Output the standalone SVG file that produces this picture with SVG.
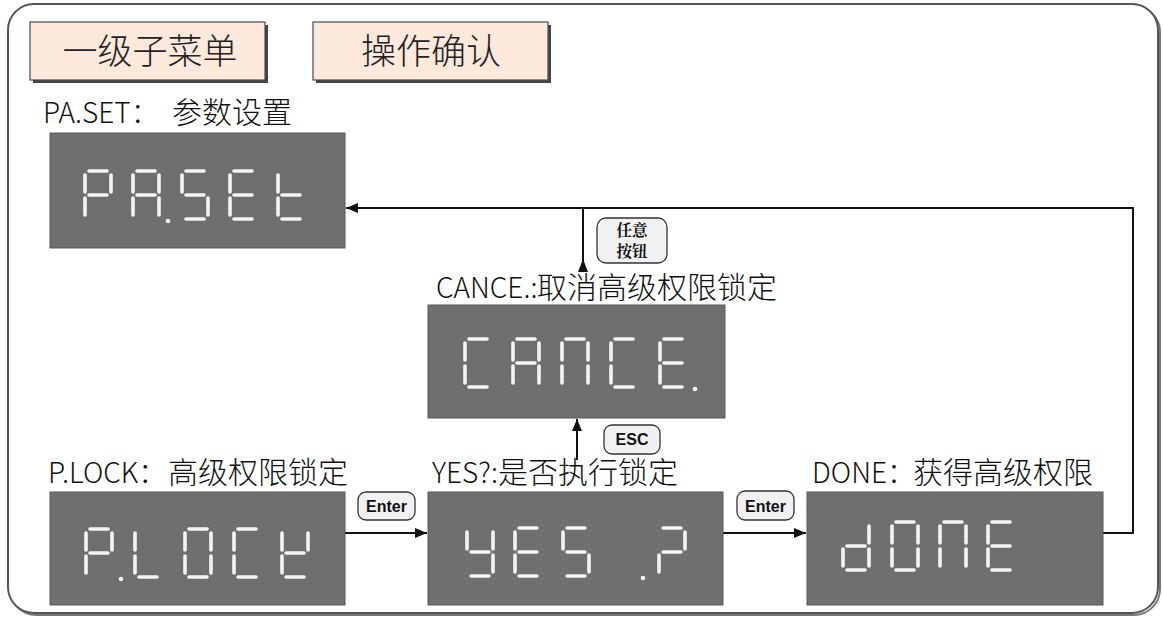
<svg xmlns="http://www.w3.org/2000/svg" xmlns:xlink="http://www.w3.org/1999/xlink" width="1163" height="626" viewBox="0 0 1163 626">
<style>
.frame{fill:#fff;stroke:#555;stroke-width:2}
.framesh{fill:none;stroke:#777;stroke-width:2}
.hdr{fill:#fce9dc;stroke:#4a4a4a;stroke-width:1.2}
.hdrsh{fill:#444}
.htxt{font-family:"Noto Sans CJK SC","Noto Sans",sans-serif;font-weight:300;font-size:35px;fill:#222;text-anchor:middle}
.lbl{font-family:"Noto Sans CJK SC","Noto Sans",sans-serif;font-weight:300;font-size:28px;fill:#111}
.cjk{font-size:30px}
.disp{fill:#6f6f6f;stroke:#585858;stroke-width:1}
.seg{stroke:#f4f4f4;stroke-width:3.6;stroke-linecap:round;fill:none}
.dpc{fill:#f4f4f4}
.btn{fill:#f1f1f1;stroke:#333;stroke-width:1.3}
.btxt{font-family:"Liberation Sans Narrow","Liberation Sans",Arial,sans-serif;font-weight:bold;font-size:16px;fill:#111;text-anchor:middle}
.bcjk{font-family:"Noto Serif CJK SC","Noto Sans CJK SC",serif;font-weight:bold;font-size:15.5px;fill:#111;text-anchor:middle}
.conn{stroke:#111;stroke-width:2;fill:none}
.ah{fill:#111}
</style>
<defs>
<marker id="arr" viewBox="0 0 12 10" refX="12" refY="5" markerWidth="12" markerHeight="10" markerUnits="userSpaceOnUse" orient="auto"><path d="M0,0 L12,5 L0,10 z" fill="#111"/></marker>
<line id="sa" class="seg" x1="4" y1="0" x2="22" y2="0"/>
<line id="sb" class="seg" x1="26" y1="4" x2="26" y2="21"/>
<line id="sc" class="seg" x1="26" y1="27" x2="26" y2="44"/>
<line id="sd" class="seg" x1="4" y1="48" x2="22" y2="48"/>
<line id="se" class="seg" x1="0" y1="27" x2="0" y2="44"/>
<line id="sf" class="seg" x1="0" y1="4" x2="0" y2="21"/>
<line id="sg" class="seg" x1="4" y1="24" x2="22" y2="24"/>
<circle id="dp" class="dpc" cx="35" cy="50" r="2.3"/>
</defs>

<rect class="framesh" x="10" y="6" width="1150" height="609" rx="26"/>
<rect class="frame" x="8" y="4" width="1150" height="609" rx="26"/>

<g id="hdr1">
<rect class="hdrsh" x="33" y="25" width="235" height="58"/>
<rect class="hdr" x="30" y="22" width="235" height="58"/>
<text class="htxt" x="150" y="64">一级子菜单</text>
</g>
<g id="hdr2">
<rect class="hdrsh" x="316" y="25" width="235" height="58"/>
<rect class="hdr" x="313" y="22" width="235" height="58"/>
<text class="htxt" x="431" y="64">操作确认</text>
</g>

<g id="connectors">
<path class="conn" d="M1103,533 H1133 V208 H346" marker-end="url(#arr)"/>
<path class="conn" d="M583,272 V208"/>
<polygon class="ah" points="583,259 578,272 588,272"/>
<path class="conn" d="M345,533 H427" marker-end="url(#arr)"/>
<path class="conn" d="M723,533 H806" marker-end="url(#arr)"/>
<path class="conn" d="M577,460 V419" marker-end="url(#arr)"/>
</g>

<g id="btn-any">
<rect class="btn" x="597" y="218" width="70" height="45" rx="9"/>
<text class="bcjk" x="632" y="236">任意</text>
<text class="bcjk" x="632" y="257">按钮</text>
</g>
<g id="btn-esc">
<rect class="btn" x="604" y="425" width="56" height="29" rx="8"/>
<text class="btxt" x="632" y="445">ESC</text>
</g>
<g id="btn-enter1">
<rect class="btn" x="358" y="492" width="57" height="28" rx="8"/>
<text class="btxt" x="386.5" y="512">Enter</text>
</g>
<g id="btn-enter2">
<rect class="btn" x="737" y="491" width="57" height="29" rx="8"/>
<text class="btxt" x="765.5" y="512">Enter</text>
</g>

<g id="node-paset">
<text class="lbl" x="43" y="123">PA.SET：<tspan class="cjk" x="172">参数设置</tspan></text>
<rect class="disp" x="50" y="133" width="295" height="115"/>
<g transform="translate(85,171)"><use href="#sa"/><use href="#sb"/><use href="#se"/><use href="#sf"/><use href="#sg"/></g>
<g transform="translate(133,171)"><use href="#sa"/><use href="#sb"/><use href="#sc"/><use href="#se"/><use href="#sf"/><use href="#sg"/><use href="#dp"/></g>
<g transform="translate(182,171)"><use href="#sa"/><use href="#sc"/><use href="#sd"/><use href="#sf"/><use href="#sg"/></g>
<g transform="translate(230,171)"><use href="#sa"/><use href="#sd"/><use href="#se"/><use href="#sf"/><use href="#sg"/></g>
<g transform="translate(278,171)"><use href="#sd"/><use href="#se"/><use href="#sf"/><use href="#sg"/></g>
</g>

<g id="node-cance">
<text class="lbl" x="436" y="298">CANCE.:<tspan class="cjk" x="537">取消高级权限锁定</tspan></text>
<rect class="disp" x="428" y="305" width="297" height="113"/>
<g transform="translate(465,339)"><use href="#sa"/><use href="#sd"/><use href="#se"/><use href="#sf"/></g>
<g transform="translate(513,339)"><use href="#sa"/><use href="#sb"/><use href="#sc"/><use href="#se"/><use href="#sf"/><use href="#sg"/></g>
<g transform="translate(562,339)"><use href="#sa"/><use href="#sb"/><use href="#sc"/><use href="#se"/><use href="#sf"/></g>
<g transform="translate(611,339)"><use href="#sa"/><use href="#sd"/><use href="#se"/><use href="#sf"/></g>
<g transform="translate(660,339)"><use href="#sa"/><use href="#sd"/><use href="#se"/><use href="#sf"/><use href="#sg"/><use href="#dp"/></g>
</g>

<g id="node-plock">
<text class="lbl" x="48" y="483">P.LOCK：<tspan class="cjk" x="168">高级权限锁定</tspan></text>
<rect class="disp" x="50" y="492" width="295" height="113"/>
<g transform="translate(86,529)"><use href="#sa"/><use href="#sb"/><use href="#se"/><use href="#sf"/><use href="#sg"/><use href="#dp"/></g>
<g transform="translate(135,529)"><use href="#sd"/><use href="#se"/><use href="#sf"/></g>
<g transform="translate(185,529)"><use href="#sa"/><use href="#sb"/><use href="#sc"/><use href="#sd"/><use href="#se"/><use href="#sf"/></g>
<g transform="translate(234,529)"><use href="#sa"/><use href="#sd"/><use href="#se"/><use href="#sf"/></g>
<g transform="translate(282,529)"><use href="#sb"/><use href="#sd"/><use href="#se"/><use href="#sf"/><use href="#sg"/></g>
</g>

<g id="node-yes">
<text class="lbl" x="432" y="483">YES?:<tspan class="cjk" x="498">是否执行锁定</tspan></text>
<rect class="disp" x="428" y="492" width="295" height="113"/>
<g transform="translate(467,528)"><use href="#sb"/><use href="#sc"/><use href="#sd"/><use href="#sf"/><use href="#sg"/></g>
<g transform="translate(515,528)"><use href="#sa"/><use href="#sd"/><use href="#se"/><use href="#sf"/><use href="#sg"/></g>
<g transform="translate(563,528)"><use href="#sa"/><use href="#sc"/><use href="#sd"/><use href="#sf"/><use href="#sg"/></g>
<g transform="translate(608,528)"><use href="#dp"/></g>
<g transform="translate(659,528)"><use href="#sa"/><use href="#sb"/><use href="#se"/><use href="#sg"/></g>
</g>

<g id="node-done">
<text class="lbl" x="812" y="483">DONE：<tspan class="cjk" x="913">获得高级权限</tspan></text>
<rect class="disp" x="807" y="492" width="296" height="113"/>
<g transform="translate(843,522)"><use href="#sb"/><use href="#sc"/><use href="#sd"/><use href="#se"/><use href="#sg"/></g>
<g transform="translate(892,522)"><use href="#sa"/><use href="#sb"/><use href="#sc"/><use href="#sd"/><use href="#se"/><use href="#sf"/></g>
<g transform="translate(940,522)"><use href="#sa"/><use href="#sb"/><use href="#sc"/><use href="#se"/><use href="#sf"/></g>
<g transform="translate(988,522)"><use href="#sa"/><use href="#sd"/><use href="#se"/><use href="#sf"/><use href="#sg"/></g>
</g>
</svg>
